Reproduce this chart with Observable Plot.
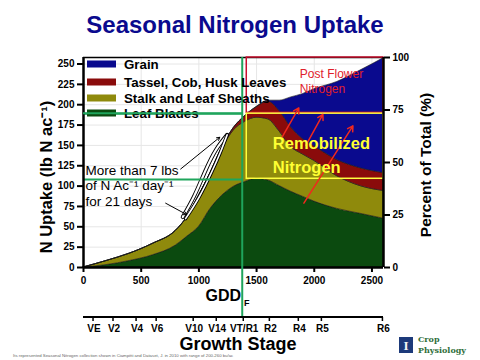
<!DOCTYPE html>
<html><head><meta charset="utf-8">
<script src="https://cdn.jsdelivr.net/npm/d3@7"></script>
<script src="https://cdn.jsdelivr.net/npm/@observablehq/plot@0.6"></script>
<style>body{margin:0;background:#fff}svg{display:block}</style>
</head><body><div id="chart"></div>
<script>
// ---- data ----
const gdd        = [0,200,400,600,800,900,1000,1100,1200,1300,1400,1500,1600,1700,1800,1900,2000,2200,2400,2600];
const leafBlades = [0,3,8,15,27,38,50,72,88,99,105,109,107,100,93,87,81,72,66,60];
const stalk      = [0,5,9,14,18,24,38,43,57,69,74,75,75,67,55,52,50,40,34,34];
const tassel     = [0,0,0,0,0,0,0,1,2,3,7,13,22,25,24,19,18,20,22,22];
const grain      = [0,0,0,0,0,0,0,0,0,0,0,0,1,13,37,55,70,96,120,141];
const seriesNames = ["Grain","Tassel, Cob, Husk Leaves","Stalk and Leaf Sheaths","Leaf Blades"];
const seriesColors = ["#0a0a8e","#8a0b0b","#8f8a0c","#0b4a0f"];
const stackOrder = ["Leaf Blades","Stalk and Leaf Sheaths","Tassel, Cob, Husk Leaves","Grain"];
const xTicks = [0,500,1000,1500,2000,2500];
const yTicks = [0,25,50,75,100,125,150,175,200,225,250];
const pctTicks = [0,25,50,75,100];
const stageLabels = ["VE","V2","V4","V6","V10","V14","VT/R1","R2","R4","R5","R6"];
const stageGdd    = [87,260,460,634,955,1155,1389,1615,1866,2066,2595];
const X_MAX = 2600, Y_MAX = 258;
// annotation geometry (data units)
const gddF = [1380];
const hLines = [189,108];
const yellowBox = [{x1:1415,x2:2600,y1:109,y2:189}];
const redBox = [{x1:1415,x2:2600,y1:190,y2:258}];
const redArrows = [{x1:1720,y1:160,x2:1866,y2:196},{x1:1927,y1:150,x2:2075,y2:188},{x1:1910,y1:79,x2:2335,y2:174}];
const blackArrows = [{x1:842,y1:121,x2:1181,y2:160},{x1:712,y1:79,x2:894,y2:65}];
const lensA = [[860,62],[960,88],[1060,120],[1150,145],[1245,163]];
const lensB = [[885,60],[1000,86],[1110,117],[1185,141],[1245,163]];

const rows = [];
gdd.forEach((g,i)=>{
  rows.push({gdd:g, series:"Leaf Blades", value:leafBlades[i]});
  rows.push({gdd:g, series:"Stalk and Leaf Sheaths", value:stalk[i]});
  rows.push({gdd:g, series:"Tassel, Cob, Husk Leaves", value:tassel[i]});
  rows.push({gdd:g, series:"Grain", value:grain[i]});
});

const green = "#1fa55c";
const plot = Plot.plot({
  width:480, height:360,
  marginTop:57, marginLeft:83, marginRight:97, marginBottom:93,
  x:{domain:[0,X_MAX]}, y:{domain:[0,Y_MAX]},
  color:{domain:seriesNames, range:seriesColors},
  style:{fontFamily:"'Liberation Sans', Arial, sans-serif", fontSize:"10px", fontWeight:"bold", background:"white", color:"black"},
  marks:[
    Plot.gridX(xTicks, {stroke:"#e6e6e6", strokeOpacity:1}),
    Plot.gridY(yTicks, {stroke:"#e6e6e6", strokeOpacity:1}),
    Plot.areaY(rows, {x:"gdd", y:"value", fill:"series", order:stackOrder, curve:"monotone-x", stroke:"#1a1a1a", strokeWidth:0.6}),
    // white lens (rate highlight)
    Plot.line(lensA, {x:d=>d[0], y:d=>d[1], curve:"natural", stroke:"black", strokeWidth:4}),
    Plot.line(lensA, {x:d=>d[0], y:d=>d[1], curve:"natural", stroke:"white", strokeWidth:2.2}),
    Plot.line(lensB, {x:d=>d[0], y:d=>d[1], curve:"natural", stroke:"black", strokeWidth:3.4}),
    Plot.line(lensB, {x:d=>d[0], y:d=>d[1], curve:"natural", stroke:"white", strokeWidth:1.6}),
    Plot.arrow(blackArrows, {x1:"x1",y1:"y1",x2:"x2",y2:"y2", stroke:"black", strokeWidth:1, headLength:5}),
    Plot.ruleY([Y_MAX], {stroke:"black", strokeWidth:1.5}),
    Plot.rect(redBox, {x1:"x1",x2:"x2",y1:"y1",y2:"y2", fill:"none", stroke:"#c8102e", strokeWidth:1.5}),
    Plot.rect(yellowBox, {x1:"x1",x2:"x2",y1:"y1",y2:"y2", fill:"none", stroke:"#ffff40", strokeWidth:1.5}),
    Plot.arrow(redArrows, {x1:"x1",y1:"y1",x2:"x2",y2:"y2", stroke:"#f0281e", strokeWidth:1.5, headLength:6}),
    Plot.ruleY(hLines, {x1:0, x2:gddF[0], stroke:green, strokeWidth:2}),
    Plot.ruleX([0], {stroke:"black", strokeWidth:2.5}),
    Plot.ruleX([X_MAX], {stroke:"black", strokeWidth:2.5}),
    Plot.ruleY([0], {stroke:"black", strokeWidth:2.5}),
    Plot.axisX({ticks:xTicks, tickFormat:d=>String(d), tickSize:5, tickPadding:4, strokeWidth:2, label:null}),
    Plot.axisY({anchor:"left", ticks:yTicks, tickSize:6, tickPadding:3, strokeWidth:2, label:null}),
    Plot.axisY({anchor:"right", ticks:pctTicks.map(p=>p*Y_MAX/100), tickFormat:d=>String(Math.round(d*100/Y_MAX)), tickSize:6, tickPadding:3, strokeWidth:2, label:null}),
    Plot.text(["Post Flower","Nitrogen"], {x:1875, y:(d,i)=>[238,219][i], text:d=>d, textAnchor:"start", fill:"#e0202a", fontSize:12, fontWeight:"normal"}),
    Plot.text(["Remobilized","Nitrogen"], {x:1641, y:(d,i)=>[152,123][i], text:d=>d, textAnchor:"start", fill:"#ffff33", fontSize:16.5, fontWeight:"bold"}),
    Plot.text(["More than 7 lbs","of N Ac⁻¹ day⁻¹","for 21 days"], {x:17, y:(d,i)=>[119,100,81][i], text:d=>d, textAnchor:"start", fill:"black", fontSize:13.5, fontWeight:"normal"})
  ]
});

const svg = d3.select(plot);
const xs = plot.scale("x"), ys = plot.scale("y");
const font = "'Liberation Sans', Arial, sans-serif";
function txt(x, y, s, size, opts={}) {
  return svg.append("text").attr("x",x).attr("y",y)
    .attr("text-anchor",opts.anchor||"start")
    .attr("font-family",opts.family||font)
    .attr("font-weight",opts.weight||"bold")
    .attr("font-size",size)
    .attr("fill",opts.fill||"black")
    .attr("dy",opts.dy||null)
    .attr("transform",opts.transform||null)
    .text(s);
}
// vertical GDD_F line
const gx = xs.apply(gddF[0]);
svg.append("line").attr("x1",gx).attr("x2",gx).attr("y1",ys.apply(Y_MAX)).attr("y2",316).attr("stroke",green).attr("stroke-width",2);

// legend
const legY = [64,82,98,113];
seriesNames.forEach((s,i)=>{
  svg.append("rect").attr("x",87).attr("y",legY[i]-3.5).attr("width",29).attr("height",7).attr("fill",seriesColors[i]);
  txt(124, legY[i], s, 13.3, {dy:"0.35em"});
});
svg.append("line").attr("x1",xs.apply(0)).attr("x2",gx).attr("y1",ys.apply(hLines[0])).attr("y2",ys.apply(hLines[0])).attr("stroke",green).attr("stroke-width",2);

// title
txt(235, 33, "Seasonal Nitrogen Uptake", 24, {anchor:"middle", fill:"#0a0a8e"});
// axis labels
txt(0, 0, "N Uptake (lb N ac⁻¹)", 16.5, {anchor:"middle", transform:"translate(52,177) rotate(-90)"});
txt(0, 0, "Percent of Total (%)", 15.5, {anchor:"middle", transform:"translate(431,165) rotate(-90)"});
// GDD_F
txt(241, 301, "GDD", 16, {anchor:"end"});
txt(244, 306, "F", 9);
// growth stage axis
svg.append("line").attr("x1",xs.apply(0)).attr("x2",xs.apply(X_MAX)).attr("y1",317).attr("y2",317).attr("stroke","black").attr("stroke-width",2);
stageLabels.forEach((s,i)=>{
  const x = xs.apply(stageGdd[i]);
  svg.append("line").attr("x1",x).attr("x2",x).attr("y1",317).attr("y2",321).attr("stroke","black").attr("stroke-width",1.5);
  txt(x+1, 328, s, 10, {anchor:"middle", dy:"0.35em"});
});
txt(238, 350, "Growth Stage", 18, {anchor:"middle"});
// footnote
txt(13, 357, "Its represented Seasonal Nitrogen collection shown in Ciampitti and Dataset, J. in 2010 with range of 200-260 bu/ac", 4.3, {weight:"normal", fill:"#666"});
// logo
svg.append("rect").attr("x",399).attr("y",337).attr("width",14).attr("height",16).attr("fill","#1d3a7a");
txt(406, 349.5, "I", 13, {anchor:"middle", family:"'Liberation Serif', serif", fill:"#f5f5f5"});
txt(418, 342, "Crop", 8, {family:"'DejaVu Serif', serif", fill:"#2f6e3a"});
txt(418, 353, "Physiology", 8, {family:"'DejaVu Serif', serif", fill:"#2f6e3a"});

document.getElementById("chart").appendChild(plot);
</script></body></html>
